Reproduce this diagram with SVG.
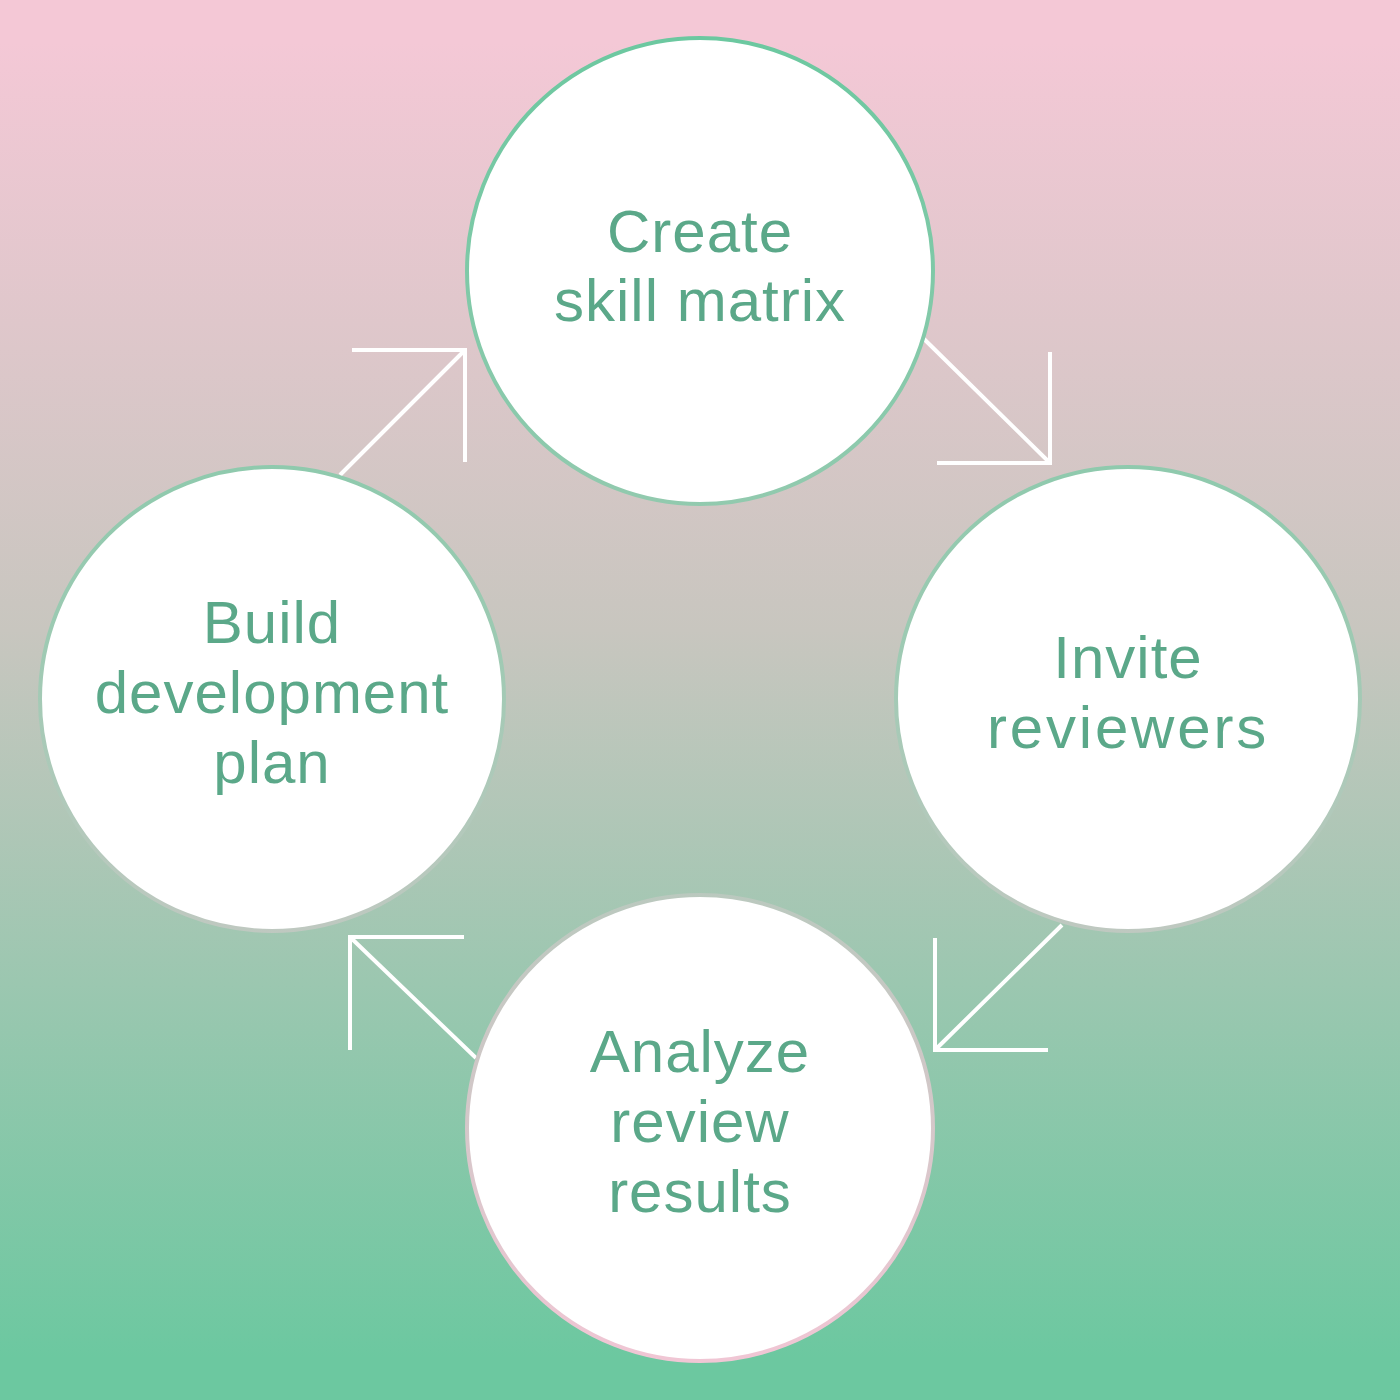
<svg xmlns="http://www.w3.org/2000/svg" width="1400" height="1400" viewBox="0 0 1400 1400">
  <defs>
    <linearGradient id="bg" gradientUnits="userSpaceOnUse" x1="0" y1="0" x2="0" y2="1400">
      <stop offset="0.03" stop-color="#f4c8d6"/>
      <stop offset="0.45" stop-color="#c8c6bf"/>
      <stop offset="0.97" stop-color="#6cc8a0"/>
    </linearGradient>
    <linearGradient id="ring" gradientUnits="userSpaceOnUse" x1="0" y1="0" x2="0" y2="1400">
      <stop offset="0.03" stop-color="#6cc8a0"/>
      <stop offset="0.45" stop-color="#9ccab2"/>
      <stop offset="0.97" stop-color="#f0c6d4"/>
    </linearGradient>
    <style>
      .node circle { fill: #ffffff; stroke: url(#ring); stroke-width: 4; }
      .node text { font-family: "Liberation Sans", Arial, sans-serif; font-size: 60px; letter-spacing: 1px; fill: #5ba889; text-anchor: middle; }
      .conn path { fill: none; stroke: #ffffff; stroke-width: 4; stroke-linecap: butt; stroke-linejoin: miter; }
    </style>
  </defs>
  <rect x="0" y="0" width="1400" height="1400" fill="url(#bg)"/>

  <g id="connectors" class="conn">
    <path d="M923 338 L1050 463 M1050 352 L1050 463 L937 463"/>
    <path d="M1062 925 L935 1050 M935 938 L935 1050 L1048 1050"/>
    <path d="M476 1058 L350 937 M464 937 L350 937 L350 1050"/>
    <path d="M340 475 L465 350 M352 350 L465 350 L465 462"/>
  </g>

  <g id="node-create" class="node">
    <circle cx="700" cy="271" r="233"/>
    <text x="700" y="252">Create</text>
    <text x="700" y="321">skill matrix</text>
  </g>
  <g id="node-invite" class="node">
    <circle cx="1128" cy="699" r="232"/>
    <text x="1128" y="678">Invite</text>
    <text x="1128" y="748" style="letter-spacing:2.8px">reviewers</text>
  </g>
  <g id="node-analyze" class="node">
    <circle cx="700" cy="1128" r="233"/>
    <text x="700" y="1072">Analyze</text>
    <text x="700" y="1142">review</text>
    <text x="700" y="1212">results</text>
  </g>
  <g id="node-build" class="node">
    <circle cx="272" cy="699" r="232"/>
    <text x="272" y="643">Build</text>
    <text x="272" y="713">development</text>
    <text x="272" y="783">plan</text>
  </g>
</svg>
